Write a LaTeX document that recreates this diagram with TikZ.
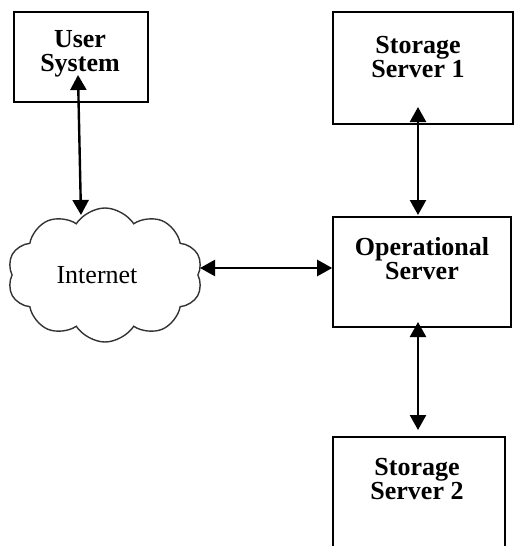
\documentclass[tikz,border=0pt]{standalone}
\usepackage{fontspec}
\setmainfont{Liberation Serif}
\usetikzlibrary{shapes.symbols,arrows.meta,calc}
\begin{document}
\begin{tikzpicture}[x=1pt,y=-1pt,
  box/.style={draw,line width=1.6pt,rectangle,inner sep=0pt},
  lbl/.style={font=\fontsize{26}{24}\selectfont\bfseries,align=center,inner sep=0pt},
  link/.style={line width=2.4pt,{Triangle[length=15pt,width=16pt]}-{Triangle[length=15pt,width=16pt]}}]
\useasboundingbox (0,0) rectangle (515,546);
\clip (0,0) rectangle (515,546);
% boxes
\node[box,minimum width=134pt,minimum height=90pt] (us) at (81,57) {};
\node[lbl] (ust) at (80,54) {User\\System};
\node[box,minimum width=180pt,minimum height=112pt] (s1) at (423,68) {};
\node[lbl] (s1t) at (418,57) {Storage\\Server 1};
\node[box,minimum width=178pt,minimum height=110pt] (op) at (422,272) {};
\node[lbl] (opt) at (422,259) {Operational\\Server};
\node[box,minimum width=172pt,minimum height=123pt] (s2) at (419,498.5) {};
\node[lbl] (s2t) at (417,479) {Storage\\Server 2};
% cloud
\node[cloud,draw=black!80,line width=1.4pt,cloud puffs=10,cloud puff arc=115,aspect=1.45,
      minimum width=195pt,minimum height=134pt,inner sep=0pt] (net) at (105,275) {};
\node[font=\fontsize{26}{24}\selectfont,inner sep=0pt] (nett) at (97,275) {Internet};
% connectors
\coordinate (a1) at (78,75);
\coordinate (a2) at (81,215);
\draw[link] (a1) -- (a2);
\coordinate (h1) at (200,268);
\draw[link] (h1) -- (h1 -| op.west);
\coordinate (v1) at (418,107);
\coordinate (v1b) at (418,215);
\draw[link] (v1) -- (v1b);
\coordinate (v2) at (418,322);
\coordinate (v2b) at (418,430);
\draw[link] (v2) -- (v2b);
\end{tikzpicture}
\end{document}
